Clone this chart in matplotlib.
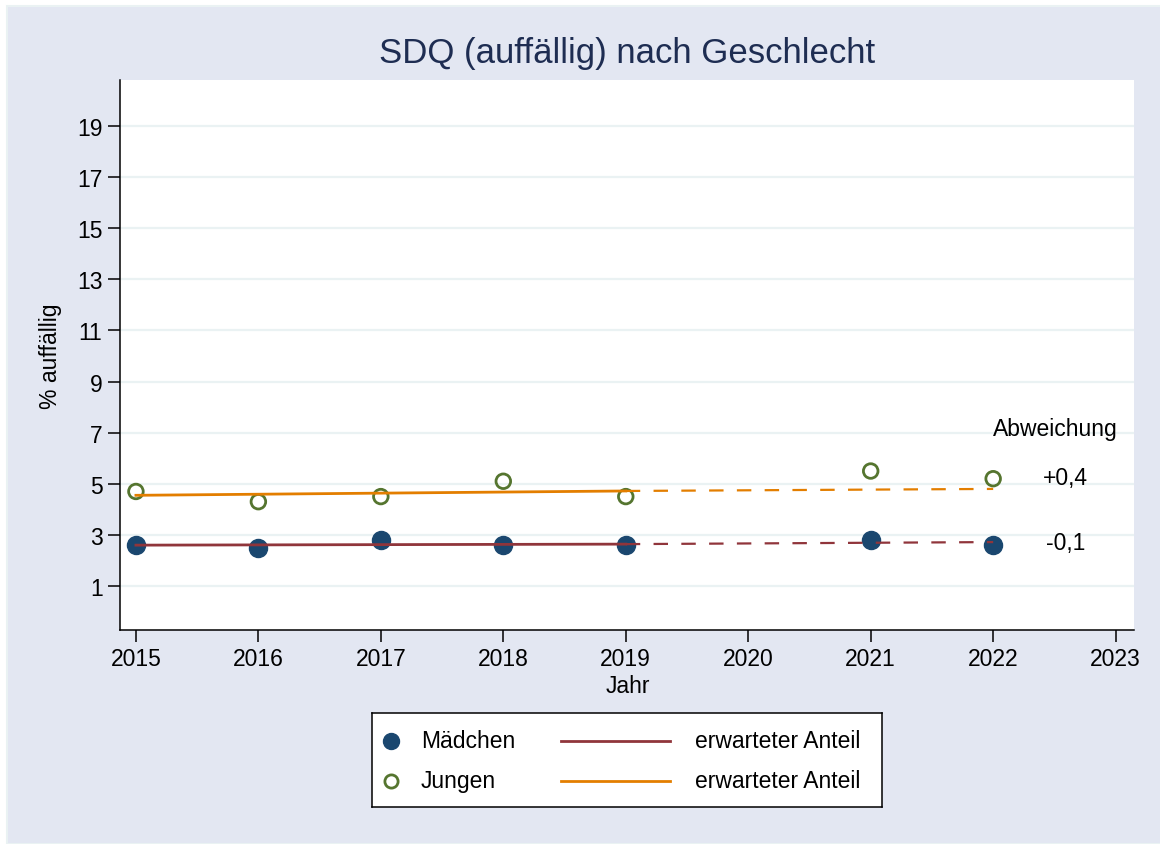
import matplotlib
matplotlib.use('Agg')
import matplotlib.pyplot as plt
from matplotlib.patches import Rectangle
from matplotlib.lines import Line2D

plt.rcParams['font.family'] = ['Liberation Sans', 'DejaVu Sans']

# ── data ─────────────────────────────────────────────────────────────────────
years        = [2015, 2016, 2017, 2018, 2019, 2021, 2022]
maedchen     = [2.6, 2.5, 2.8, 2.6, 2.6, 2.8, 2.6]
jungen       = [4.7, 4.3, 4.5, 5.1, 4.5, 5.5, 5.2]

fit_years    = [2015, 2019]          # fitted trend (solid)
proj_years   = [2019, 2022]          # projection (dashed)
maedchen_fit = [2.60, 2.64]
maedchen_prj = [2.64, 2.72]
jungen_fit   = [4.55, 4.72]
jungen_prj   = [4.72, 4.80]

xticks = list(range(2015, 2024))
yticks = list(range(1, 20, 2))

NAVY   = '#1A476F'
MAROON = '#90353B'
GREEN  = '#55752F'
ORANGE = '#E37E00'
BG     = '#E3E7F2'
GRID   = '#EAF2F3'
TITLE  = '#1E2D52'
FS     = 16.5

# ── figure ───────────────────────────────────────────────────────────────────
fig = plt.figure(figsize=(11.6, 8.45), dpi=100, facecolor='white')
fig.patches.append(Rectangle((7 / 1160, 0), 1, 1 - 7 / 845, transform=fig.transFigure,
                             facecolor=BG, edgecolor=GRID, lw=1.5, zorder=-10))

ax = fig.add_axes([120 / 1160, 214 / 845, 1014 / 1160, 550 / 845])
ax.set_facecolor('white')
for s in ('top', 'right'):
    ax.spines[s].set_visible(False)
for s in ('left', 'bottom'):
    ax.spines[s].set_linewidth(1.1)

ax.scatter(years, maedchen, s=13 ** 2, color=NAVY, zorder=3)
ax.scatter(years, jungen, s=10.5 ** 2, facecolors='none', edgecolors=GREEN,
           linewidths=2.0, zorder=3)

ax.plot(fit_years, maedchen_fit, color=MAROON, lw=2.0, zorder=4)
ax.plot(proj_years, maedchen_prj, color=MAROON, lw=1.6, dashes=(6.5, 6), zorder=4)
ax.plot(fit_years, jungen_fit, color=ORANGE, lw=2.0, zorder=4)
ax.plot(proj_years, jungen_prj, color=ORANGE, lw=1.6, dashes=(6.5, 6), zorder=4)

ax.set_xlim(2014.87, 2023.15)
ax.set_ylim(-0.72, 20.8)
ax.set_xticks(xticks)
ax.set_yticks(yticks)
ax.tick_params(axis='both', length=8.6, width=1.1, labelsize=FS, pad=4)
ax.yaxis.grid(True, color=GRID, lw=1.6)
ax.set_axisbelow(True)

ax.set_ylabel('% auffällig', fontsize=FS)
ax.yaxis.set_label_coords(-0.057, 0.5)
ax.set_xlabel('Jahr', fontsize=FS)
ax.xaxis.set_label_coords(0.501, -0.08)

ax.text(0.5, 1.05, 'SDQ (auffällig) nach Geschlecht', transform=ax.transAxes,
        ha='center', va='center', fontsize=25, color=TITLE)

# deviation of last observation from expected value
dev_j = jungen[-1] - jungen_prj[-1]
dev_m = maedchen[-1] - maedchen_prj[-1]
fmt = lambda v: f'{v:+.1f}'.replace('.', ',')
ax.text(2022.51, 7.17, 'Abweichung', ha='center', va='center', fontsize=FS)
ax.text(2022.59, 5.26, fmt(dev_j), ha='center', va='center', fontsize=FS)
ax.text(2022.59, 2.72, fmt(dev_m), ha='center', va='center', fontsize=FS)

# ── legend box ───────────────────────────────────────────────────────────────
lg = fig.add_axes([372 / 1160, 37 / 845, 510 / 1160, 94 / 845])
lg.set_xlim(0, 510)
lg.set_ylim(0, 94)
lg.set_xticks([])
lg.set_yticks([])
lg.set_facecolor('white')
for s in lg.spines.values():
    s.set_linewidth(1.1)
    s.set_color('black')

rows = [
    (66, dict(marker='o', ms=11.5, color=NAVY, ls='none'), 'Mädchen', MAROON),
    (26, dict(marker='o', ms=9.5, mfc='none', mec=GREEN, mew=2.0, ls='none'), 'Jungen', ORANGE),
]
for y, mk, lbl, lc in rows:
    lg.add_line(Line2D([19], [y], **mk))
    lg.text(49, y, lbl, va='center', fontsize=FS)
    lg.add_line(Line2D([189, 298], [y, y], color=lc, lw=2.0))
    lg.text(323, y, 'erwarteter Anteil', va='center', fontsize=FS)

plt.savefig('out.png', dpi=100, facecolor=fig.get_facecolor())
print('Saved out.png')
